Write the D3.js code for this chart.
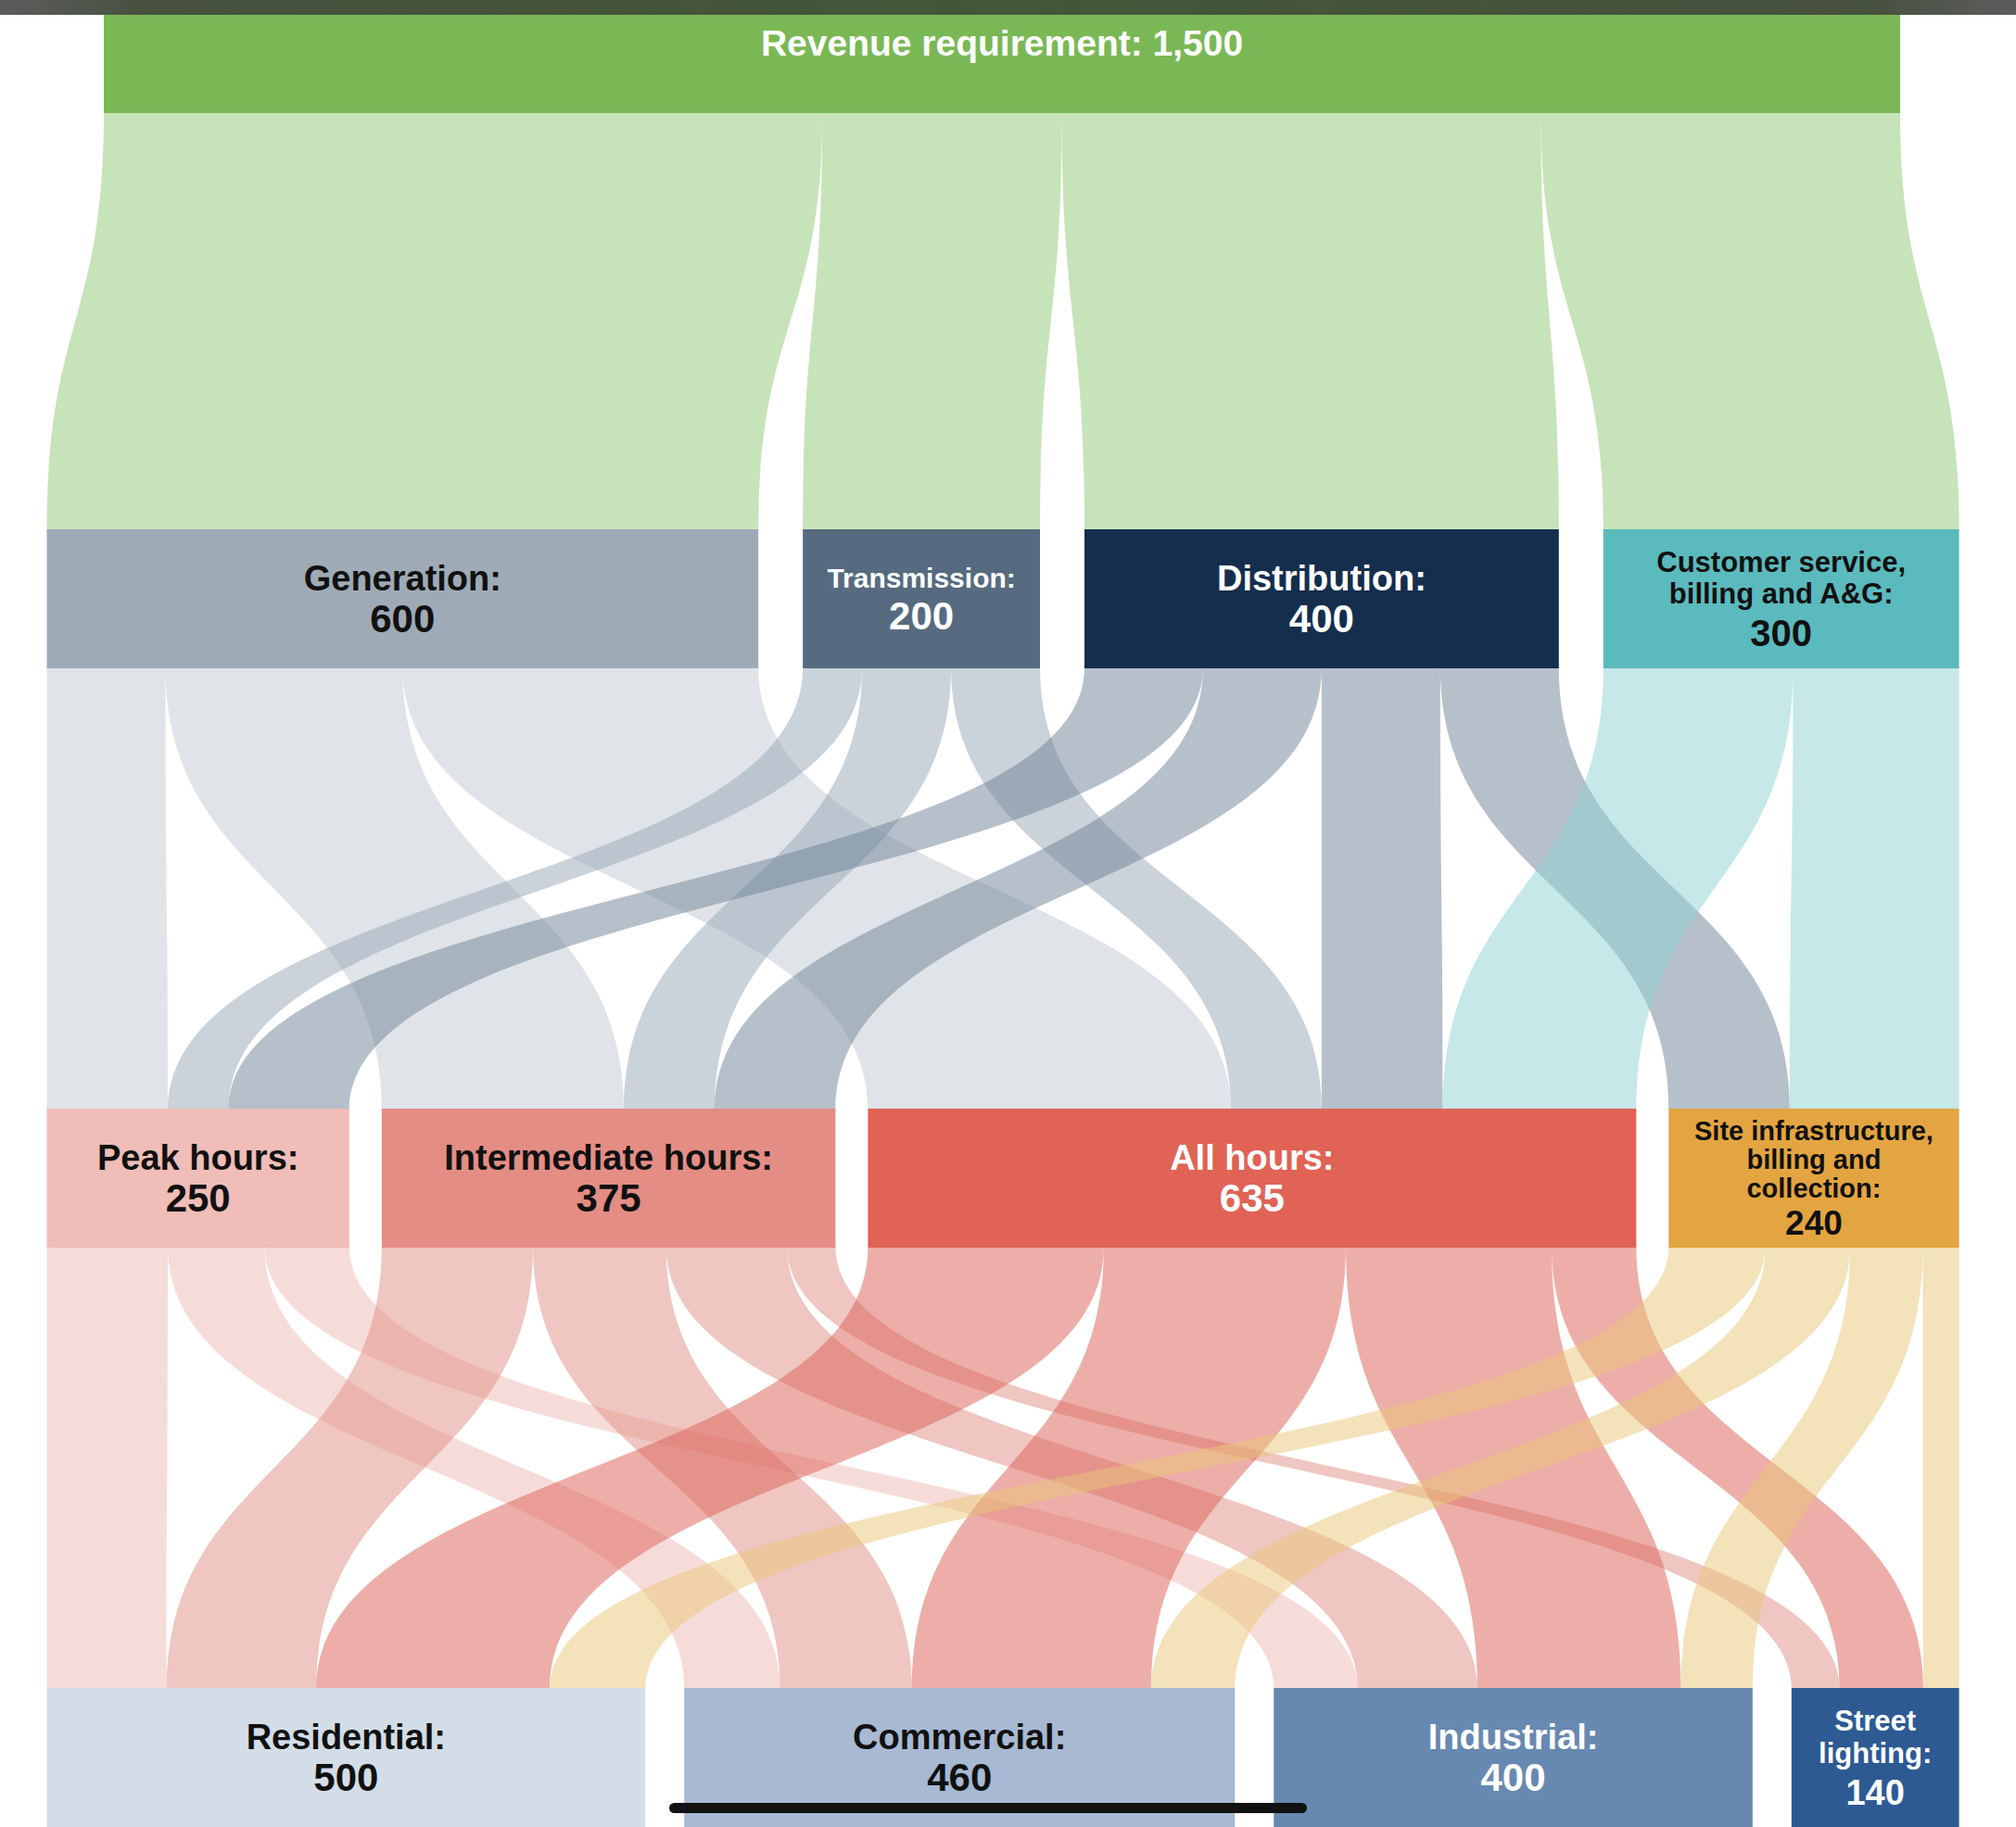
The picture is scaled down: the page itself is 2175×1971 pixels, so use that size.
<!DOCTYPE html>
<html>
<head>
<meta charset="utf-8">
<script src="https://cdn.jsdelivr.net/npm/d3@7"></script>
<style>
  body { margin: 0; background: #fff; }
  svg { display: block; font-family: "Liberation Sans", Arial, sans-serif; font-weight: bold; }
</style>
</head>
<body>
<div id="chart"></div>
<script>
// one array per row of the diagram, top to bottom
const revenueNodes = ["Revenue requirement"];
const costNodes = ["Generation", "Transmission", "Distribution", "Customer service, billing and A&G"];
const periodNodes = ["Peak hours", "Intermediate hours", "All hours", "Site infrastructure, billing and collection"];
const classNodes = ["Residential", "Commercial", "Industrial", "Street lighting"];

// flows between rows (rows of the matrix = source, columns = target)
const revenueToCost = [[600, 200, 400, 300]];
const costToPeriod = [
  [100, 200, 300, 0],
  [50, 75, 75, 0],
  [100, 100, 100, 100],
  [0, 0, 160, 140]
];
const periodToClass = [
  [100, 80, 70, 0],
  [125, 110, 100, 40],
  [195, 200, 170, 70],
  [80, 70, 60, 30]
];

// labels that wrap
const labelLines = {
  "Customer service, billing and A&G": ["Customer service,", "billing and A&G:"],
  "Site infrastructure, billing and collection": ["Site infrastructure,", "billing and", "collection:"],
  "Street lighting": ["Street", "lighting:"]
};

const width = 2175, height = 1971;
const rows = [revenueNodes, costNodes, periodNodes, classNodes];
const flows = [revenueToCost, costToPeriod, periodToClass];
const rowY = [[16, 122], [571, 721], [1196, 1346], [1821, 1971]];
const rowX = [[112, 2050], [50.5, 2113.6], [50.5, 2113.6], [50.5, 2113.6]];
const rowGap = [0, 48, 35, 42];

const nodeStyle = {
  "Revenue requirement": {fill: "#7ab856", ink: "#fff", link: "#8fc773"},
  "Generation": {fill: "#9eaab6", ink: "#111", link: "#c1c9d1"},
  "Transmission": {fill: "#566b80", ink: "#fff", link: "#95a5b5", fs: 30},
  "Distribution": {fill: "#152e4d", ink: "#fff", link: "#6d8195"},
  "Customer service, billing and A&G": {fill: "#5bbabd", ink: "#111", link: "#8dd1d1", fs: 31, vs: 40, lh: 34, vh: 46},
  "Peak hours": {fill: "#f0bdb8", ink: "#111", link: "#edb9b3"},
  "Intermediate hours": {fill: "#e48d84", ink: "#111", link: "#df8d83"},
  "All hours": {fill: "#e06356", ink: "#fff", link: "#db5d53"},
  "Site infrastructure, billing and collection": {fill: "#e3a541", ink: "#111", link: "#e9c577", fs: 29, vs: 37, lh: 31, vh: 40},
  "Residential": {fill: "#d3dde7", ink: "#111"},
  "Commercial": {fill: "#a7b9d3", ink: "#111"},
  "Industrial": {fill: "#6789b1", ink: "#fff"},
  "Street lighting": {fill: "#2d5a93", ink: "#fff", fs: 31, vs: 38, lh: 35, vh: 45}
};

// node values = larger of inflow and outflow
const nodes = rows.map((names, r) => names.map((name, i) => {
  const out = r < flows.length ? d3.sum(flows[r][i]) : 0;
  const inn = r > 0 ? d3.sum(flows[r - 1], row => row[i]) : 0;
  return {name, row: r, index: i, value: Math.max(out, inn)};
}));

nodes.forEach((row, r) => {
  const total = d3.sum(row, d => d.value);
  const w = d3.scaleLinear()
    .domain([0, total])
    .range([0, rowX[r][1] - rowX[r][0] - rowGap[r] * (row.length - 1)]);
  let x = rowX[r][0];
  row.forEach(d => {
    d.w = w;
    d.x0 = x; d.x1 = x + w(d.value);
    d.y0 = rowY[r][0]; d.y1 = rowY[r][1];
    d.outX = d.x0; d.inX = d.x0;
    x = d.x1 + rowGap[r];
  });
});

const links = [];
flows.forEach((m, r) => {
  m.forEach((vals, i) => vals.forEach((v, j) => {
    if (!v) return;
    const s = nodes[r][i], t = nodes[r + 1][j];
    const l = {source: s, target: t, value: v,
      sx0: s.outX, sx1: s.outX + s.w(v),
      tx0: t.inX, tx1: t.inX + t.w(v)};
    s.outX = l.sx1;
    t.inX = l.tx1;
    links.push(l);
  }));
});

function ribbon(l) {
  const y0 = l.source.y1 - 1, y1 = l.target.y0 + 1, ym = (y0 + y1) / 2;
  const p = d3.path();
  p.moveTo(l.sx0, y0);
  p.bezierCurveTo(l.sx0, ym, l.tx0, ym, l.tx0, y1);
  p.lineTo(l.tx1, y1);
  p.bezierCurveTo(l.tx1, ym, l.sx1, ym, l.sx1, y0);
  p.closePath();
  return p.toString();
}

const svg = d3.select("#chart").append("svg")
  .attr("width", width)
  .attr("height", height);

// status bar strip of the screenshot
const grad = svg.append("defs").append("linearGradient").attr("id", "strip");
grad.selectAll("stop")
  .data([[0, "#5c5c5c"], [0.07, "#485240"], [0.5, "#435838"], [0.93, "#485240"], [1, "#5c5c5c"]])
  .enter().append("stop")
  .attr("offset", d => d[0])
  .attr("stop-color", d => d[1]);
svg.append("rect")
  .attr("x", 0).attr("y", 0)
  .attr("width", width).attr("height", 16)
  .attr("fill", "url(#strip)");

svg.append("g")
  .selectAll("path")
  .data(links)
  .enter().append("path")
  .attr("d", ribbon)
  .attr("fill", d => nodeStyle[d.source.name].link)
  .attr("fill-opacity", 0.5);

const allNodes = nodes.flat();

const node = svg.append("g")
  .selectAll("g")
  .data(allNodes)
  .enter().append("g");

node.append("rect")
  .attr("x", d => d.x0)
  .attr("y", d => d.y0)
  .attr("width", d => d.x1 - d.x0)
  .attr("height", d => d.y1 - d.y0)
  .attr("fill", d => nodeStyle[d.name].fill);

const fmt = d3.format(",");

node.each(function(d) {
  const st = Object.assign({fs: 38, vs: 42, lh: 40, vh: 45}, nodeStyle[d.name]);
  const g = d3.select(this);
  const cx = (d.x0 + d.x1) / 2;
  if (d.row === 0) {
    g.append("text")
      .attr("x", cx)
      .attr("y", d.y0 + 44)
      .attr("text-anchor", "middle")
      .attr("fill", st.ink)
      .style("font-size", "39px")
      .text(d.name + ": " + fmt(d.value));
    return;
  }
  const lines = labelLines[d.name] || [d.name + ":"];
  const blockTop = -0.716 * st.fs;
  const lastBase = (lines.length - 1) * st.lh + st.vh;
  const first = (d.y0 + d.y1) / 2 - (blockTop + lastBase) / 2;
  lines.forEach((t, k) => {
    g.append("text")
      .attr("x", cx)
      .attr("y", first + k * st.lh)
      .attr("text-anchor", "middle")
      .attr("fill", st.ink)
      .style("font-size", st.fs + "px")
      .text(t);
  });
  g.append("text")
    .attr("x", cx)
    .attr("y", first + lastBase)
    .attr("text-anchor", "middle")
    .attr("fill", st.ink)
    .style("font-size", st.vs + "px")
    .text(fmt(d.value));
});

// home indicator of the screenshot
svg.append("rect")
  .attr("x", 722).attr("y", 1945)
  .attr("width", 688).attr("height", 11)
  .attr("rx", 5.5)
  .attr("fill", "#111");
</script>
</body>
</html>
